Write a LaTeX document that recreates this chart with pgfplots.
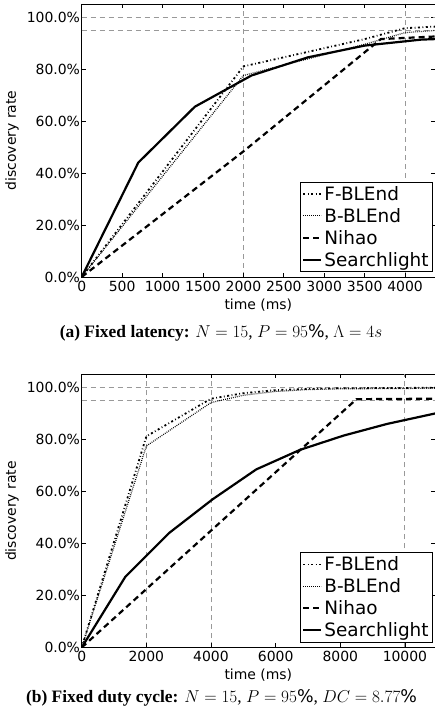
\documentclass[border=0pt]{standalone}
\usepackage{pgfplots}
\pgfplotsset{compat=1.18}
\usepackage{fontspec}
\setmainfont{DejaVu Sans}
\newfontfamily\capfont{Liberation Serif}

\pgfplotsset{
  disc/.style={
    scale only axis, width=353.3bp, height=273bp, anchor=south west,
    ymin=0, ymax=105, xmin=0,
    ytick={0,20,40,60,80,100},
    yticklabel={\pgfmathprintnumber[fixed,fixed zerofill,precision=1]{\tick}\%},
    /pgf/number format/assume math mode=true,
    /pgf/number format/1000 sep={},
    scaled x ticks=false,
    tick align=inside, major tick length=4bp,
    every tick/.style={black, line width=0.8bp},
    axis line style={line width=0.8bp},
    tick label style={font=\fontsize{14}{16}\selectfont},
    xticklabel style={inner sep=0pt, yshift=-3.5bp},
    yticklabel style={inner sep=0pt, xshift=-1.5bp},
    xlabel={time (ms)}, ylabel={discovery rate},
    every axis x label/.style={at={(axis description cs:0.5,0)}, anchor=center, yshift=-28bp,
      font=\fontsize{14}{16}\selectfont},
    every axis y label/.style={at={(axis description cs:-0.197,0.5)}, anchor=center, rotate=90,
      font=\fontsize{14}{16}\selectfont},
    extra y ticks={95,100}, extra y tick labels={},
    extra y tick style={major tick length=0pt, grid=major},
    extra x tick labels={},
    extra x tick style={grid=major},
    major grid style={black!40, line width=0.9bp, dash pattern=on 5bp off 4bp},
    legend style={at={(axis description cs:1,0)}, anchor=south east, xshift=-2bp, yshift=5bp,
      font=\fontsize{18.5}{21}\selectfont, draw=black, line width=0.8bp, inner sep=2bp,
      row sep=2.5bp},
    legend cell align=left,
    legend image code/.code={\draw[#1] (0bp,0bp) -- (18bp,0bp);},
  },
  fb/.style={black, line width=1.8bp, dash pattern=on 2bp off 2.5bp on 0.8bp off 2.5bp},
  bb/.style={black, line width=1.2bp, dash pattern=on 0.8bp off 1.2bp},
  nh/.style={black, line width=2.2bp, dash pattern=on 6bp off 4bp},
  sl/.style={black, line width=2.2bp},
}

\begin{document}
\begin{tikzpicture}
\begin{axis}[disc, at={(81.7bp,440bp)}, xmax=4370,
  xtick={0,500,...,4000}, extra x ticks={2000,4000}]
\addplot[fb] coordinates {(0,0) (2000,81) (2500,84.5) (3000,88) (3500,91.5) (4000,95.7) (4370,96.3)};
\addplot[bb] coordinates {(0,0) (2000,77.5) (2500,81.5) (3000,85.5) (3500,89.5) (4000,94) (4370,94.8)};
\addplot[nh] coordinates {(0,0) (2000,48.3) (3700,91.5) (4370,92.5)};
\addplot[sl] coordinates {(0,0) (700,44) (1400,65.5) (2100,77.5) (2800,84.5) (3500,89) (4200,91.3) (4370,91.5)};
\legend{F-BLEnd,B-BLEnd,Nihao,Searchlight}
\end{axis}

\begin{axis}[disc, at={(81.7bp,69.5bp)}, xmax=10930,
  xtick={0,2000,...,10000}, extra x ticks={2000,4000,10000}]
\addplot[fb] coordinates {(0,0) (2000,81.2) (4000,95.7) (5000,97.8) (6000,99) (7000,99.5) (8000,99.7) (10930,99.9)};
\addplot[bb] coordinates {(0,0) (2000,77.5) (4000,94.2) (5000,97) (6000,98.5) (7000,99.2) (8000,99.5) (10930,99.7)};
\addplot[nh] coordinates {(0,0) (8500,95.5) (10930,95.7)};
\addplot[sl] coordinates {(0,0) (1350,27.2) (2700,44) (4050,57) (5400,68.5) (6750,76) (8100,81.5) (9450,86) (10930,90)};
\legend{F-BLEnd,B-BLEnd,Nihao,Searchlight}
\end{axis}

\node[font=\capfont\fontsize{17.5}{20}\selectfont] at (221bp,384bp)
  {\textbf{(a) Fixed latency:} $N = 15$, $P = 95\%$, $\Lambda = 4s$};
\node[font=\capfont\fontsize{17.5}{20}\selectfont] at (221.5bp,19bp)
  {\textbf{(b) Fixed duty cycle:} $N = 15$, $P = 95\%$, $DC = 8.77\%$};

\pgfresetboundingbox
\useasboundingbox (0,0) rectangle (435bp,717bp);
\end{tikzpicture}
\end{document}
